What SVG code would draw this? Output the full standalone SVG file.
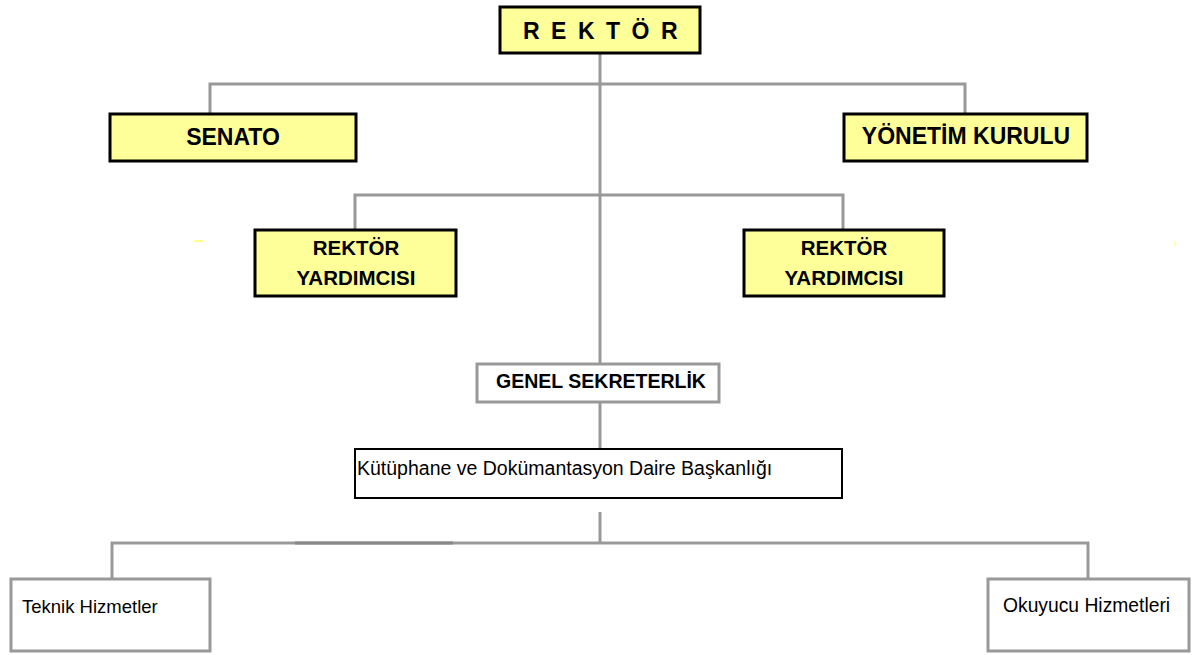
<svg xmlns="http://www.w3.org/2000/svg" width="1195" height="655" viewBox="0 0 1195 655">
<style>
.conn{fill:none;stroke:#999;stroke-width:3}
.ybox{fill:#ffff99;stroke:#000;stroke-width:3}
.gbox{fill:#fff;stroke:#999;stroke-width:3}
.kbox{fill:#fff;stroke:#000;stroke-width:2}
.bt{font-family:"Liberation Sans",Arial,sans-serif;font-weight:bold;fill:#000}
.rt{font-family:"Liberation Sans",Arial,sans-serif;fill:#000}
</style>
<rect width="1195" height="655" fill="#fff"/>
<g id="connectors">
<path class="conn" d="M600 54V363M600 403V448M600 512V543"/>
<path class="conn" d="M210 113V84H965V113"/>
<path class="conn" d="M355 229V195H843V229"/>
<path class="conn" d="M112 578V543H1088V578"/>
<path d="M295 543H453" stroke="#888" stroke-width="3"/>
</g>
<g id="rektor">
<rect class="ybox" x="500" y="7" width="200" height="46"/>
<text class="bt" x="523" y="39" font-size="23" letter-spacing="11.5">REKTÖR</text>
</g>
<g id="senato">
<rect class="ybox" x="110" y="114" width="246" height="47"/>
<text class="bt" x="233" y="145" font-size="23" text-anchor="middle">SENATO</text>
</g>
<g id="yonetim">
<rect class="ybox" x="844" y="114" width="243" height="47"/>
<text class="bt" x="966" y="144" font-size="23" text-anchor="middle">YÖNETİM KURULU</text>
</g>
<g id="ry1">
<rect class="ybox" x="255" y="230" width="201" height="66"/>
<text class="bt" x="356" y="255" font-size="20.5" text-anchor="middle">REKTÖR</text>
<text class="bt" x="356" y="285" font-size="20.5" text-anchor="middle">YARDIMCISI</text>
</g>
<g id="ry2">
<rect class="ybox" x="744" y="230" width="200" height="66"/>
<text class="bt" x="844" y="255" font-size="20.5" text-anchor="middle">REKTÖR</text>
<text class="bt" x="844" y="285" font-size="20.5" text-anchor="middle">YARDIMCISI</text>
</g>
<g id="genel">
<rect class="gbox" x="477" y="364" width="242" height="38"/>
<text class="bt" x="601" y="388" font-size="19.5" text-anchor="middle">GENEL SEKRETERLİK</text>
</g>
<g id="kutuphane">
<rect class="kbox" x="355" y="449" width="487" height="49"/>
<text class="rt" x="357" y="475" font-size="19.5">Kütüphane ve Dokümantasyon Daire Başkanlığı</text>
</g>
<g id="teknik">
<rect class="gbox" x="11" y="579" width="199" height="72"/>
<text class="rt" x="22" y="613" font-size="18.5">Teknik Hizmetler</text>
</g>
<g id="okuyucu">
<rect class="gbox" x="988" y="579" width="201" height="72"/>
<text class="rt" x="1003" y="612" font-size="19.3">Okuyucu Hizmetleri</text>
</g>
<path d="M194 241H203" stroke="#ffff66" stroke-width="1.5"/>
<path d="M1175 241V246" stroke="#ffff99" stroke-width="1.5"/>
</svg>
